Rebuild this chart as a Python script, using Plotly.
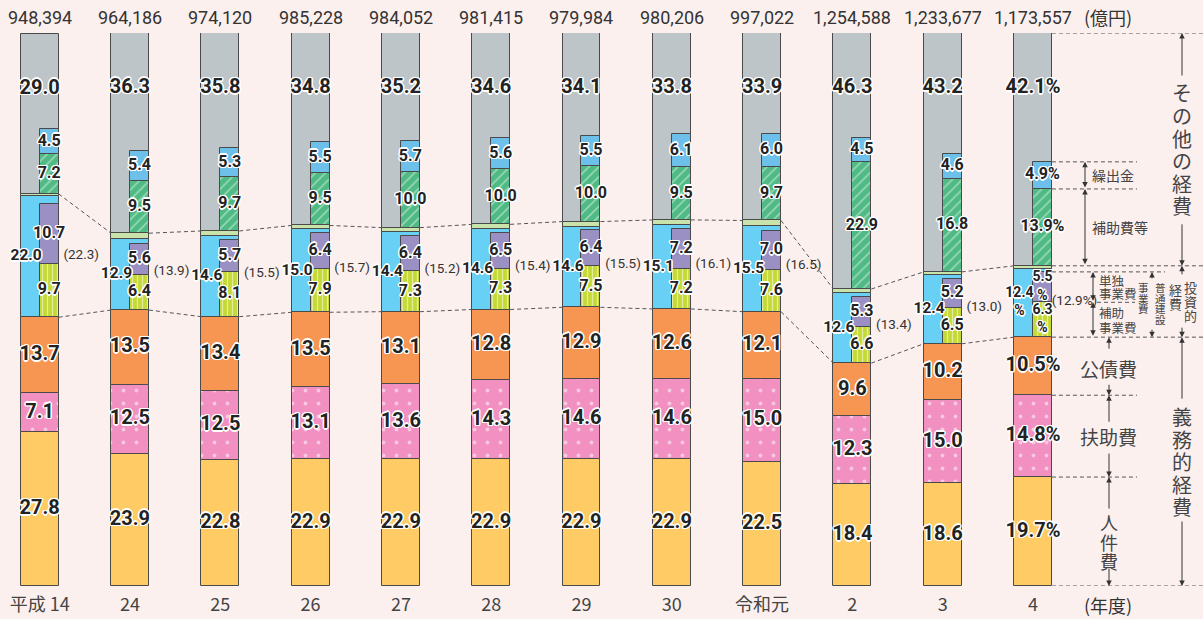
import plotly.graph_objects as go

# ---------------- data ----------------
years = ["平成 14", "24", "25", "26", "27", "28", "29", "30", "令和元", "2", "3", "4"]
totals = ["948,394", "964,186", "974,120", "985,228", "984,052", "981,415",
          "979,984", "980,206", "997,022", "1,254,588", "1,233,677", "1,173,557"]
personnel = [27.8, 23.9, 22.8, 22.9, 22.9, 22.9, 22.9, 22.9, 22.5, 18.4, 18.6, 19.7]      # 人件費
assistance = [7.1, 12.5, 12.5, 13.1, 13.6, 14.3, 14.6, 14.6, 15.0, 12.3, 15.0, 14.8]     # 扶助費
debt = [13.7, 13.5, 13.4, 13.5, 13.1, 12.8, 12.9, 12.6, 12.1, 9.6, 10.2, 10.5]           # 公債費
construction = [22.0, 12.9, 14.6, 15.0, 14.4, 14.6, 14.6, 15.1, 15.5, 12.6, 12.4, 12.4]  # 普通建設事業費
subsidized = [9.7, 6.4, 8.1, 7.9, 7.3, 7.3, 7.5, 7.2, 7.6, 6.6, 6.5, 6.3]                # 補助事業費
independent = [10.7, 5.6, 5.7, 6.4, 6.4, 6.5, 6.4, 7.2, 7.0, 5.3, 5.2, 5.5]              # 単独事業費
investment = [22.3, 13.9, 15.5, 15.7, 15.2, 15.4, 15.5, 16.1, 16.5, 13.4, 13.0, 12.9]    # 投資的経費
other = [29.0, 36.3, 35.8, 34.8, 35.2, 34.6, 34.1, 33.8, 33.9, 46.3, 43.2, 42.1]         # その他の経費
subsidies = [7.2, 9.5, 9.7, 9.5, 10.0, 10.0, 10.0, 9.5, 9.7, 22.9, 16.8, 13.9]           # 補助費等
transfers = [4.5, 5.4, 5.3, 5.5, 5.7, 5.6, 5.5, 6.1, 6.0, 4.5, 4.6, 4.9]                 # 繰出金

# ---------------- styling ----------------
FIG_W, FIG_H = 1203, 619
BG = "#FCF0EF"
EDGE = "#4A4A4A"
W = 0.42
XMIN, XMAX = -0.4396, 12.883
NUMFONT = "Roboto, Liberation Sans, sans-serif"
JP = "Noto Sans CJK JP"
OUTLINE = ("-1.5px 0 0 #fff, 1.5px 0 0 #fff, 0 -1.5px 0 #fff, 0 1.5px 0 #fff, "
           "-1px -1px 0 #fff, 1px 1px 0 #fff, -1px 1px 0 #fff, 1px -1px 0 #fff")

n = len(years)
xs = list(range(n))
last = n - 1


def add(a, b):
    return [round(p + q, 4) for p, q in zip(a, b)]


def sub(a, b):
    return [round(p - q, 4) for p, q in zip(a, b)]


b_assist = personnel
b_debt = add(personnel, assistance)
b_inv = add(b_debt, debt)
b_strip = add(b_inv, construction)
strip = sub(investment, construction)
b_indep = add(b_inv, subsidized)
b_other = add(b_inv, investment)
b_transfers = add(b_other, subsidies)
tops = add(b_other, other)


def mid(base, vals):
    return [b + v / 2 for b, v in zip(base, vals)]


def lab(vals, pct_last=True):
    out = []
    for i, v in enumerate(vals):
        s = f"{v:.1f}"
        if pct_last and i == last:
            s += "%"
        out.append(s)
    return out


fig = go.Figure()


def bar(vals, base, color, wide=True, pattern=None):
    marker = dict(color=color, line=dict(color=EDGE, width=1))
    if pattern:
        marker["pattern"] = pattern
    fig.add_trace(go.Bar(
        x=xs, y=vals, base=base,
        width=W if wide else W / 2, offset=-W / 2 if wide else 0,
        marker=marker, hoverinfo="skip", showlegend=False))


bar(personnel, [0] * n, "#FECB64")
bar(assistance, b_assist, "#F190C1",
    pattern=dict(shape=".", fgcolor="#FFFFFF", size=13, solidity=0.07))
bar(debt, b_debt, "#F79553")
bar(construction, b_inv, "#68CFF5")
bar(strip, b_strip, "#CAE3AA")
bar(other, b_other, "#BEC5C9")
bar(subsidized, b_inv, "#C4D935", wide=False,
    pattern=dict(shape="|", fgcolor="#FFFFFF", size=5, solidity=0.25))
bar(independent, b_indep, "#9A90C3", wide=False)
bar(subsidies, b_other, "#4FBA84", wide=False,
    pattern=dict(shape="/", fgcolor="#FFFFFF", size=7, solidity=0.2))
bar(transfers, b_transfers, "#6CC0EA", wide=False)

# dashed connectors between bars (top / bottom of 投資的経費)
cx, cy = [], []
for i in range(n - 1):
    for lvl in (b_other, b_inv):
        cx += [i + W / 2, i + 1 - W / 2, None]
        cy += [lvl[i], lvl[i + 1], None]
fig.add_trace(go.Scatter(x=cx, y=cy, mode="lines", hoverinfo="skip", showlegend=False,
                         line=dict(color="#555", width=1, dash="4px,3px")))


def texts(x, y, text, size, position="middle center", bold=True, outline=True, color="#222"):
    font = dict(family=NUMFONT, size=size, color=color)
    if bold:
        font["weight"] = "bold"
    if outline:
        font["shadow"] = OUTLINE
    fig.add_trace(go.Scatter(x=x, y=y, mode="text", text=text, textposition=position,
                             textfont=font, hoverinfo="skip", showlegend=False,
                             cliponaxis=False))


xn = [i + W / 4 for i in xs]
texts(xs, mid([0] * n, personnel), lab(personnel), 20)
texts(xs, mid(b_assist, assistance), lab(assistance), 20)
texts(xs, mid(b_debt, debt), lab(debt), 20)
# その他 labels sit a fixed distance below the top of each bar
texts(xs, [t - 10 for t in tops], lab(other), 20)

blue_txt = lab(construction, False)
blue_txt[last] += "<br>%"
texts([i - W / 4 - 0.045 for i in xs], mid(b_inv, construction), blue_txt,
      [15.5] * (n - 1) + [14])

sub_txt = lab(subsidized, False)
sub_txt[last] += "<br>%"
ind_txt = lab(independent, False)
ind_txt[last] += "<br>%"
nsz = [16] * (n - 1) + [14]
texts(xn, mid(b_inv, subsidized), sub_txt, nsz)
texts(xn, mid(b_indep, independent), ind_txt, nsz)
texts(xn, mid(b_other, subsidies), lab(subsidies), 16)
texts(xn, mid(b_transfers, transfers), lab(transfers), 16)

paren = [f"({v:.1f})" for v in investment]
paren[last] = f"({investment[last]:.1f}%)"
texts([i + 0.46 for i in xs], mid(b_inv, investment), paren, 13.5, bold=False,
      outline=False, color="#333")

# ---------------- annotations ----------------
ANN = []
SHAPES = []

for i in xs:
    ANN.append(dict(x=i, y=100, xref="x", yref="y", yshift=16, yanchor="middle",
                    text=totals[i], showarrow=False,
                    font=dict(family=NUMFONT, size=18, color="#333")))


def add_text(xpx, y, text, size, yshift=0, xanchor="center", color="#444"):
    ANN.append(dict(x=xpx / FIG_W, xref="paper", y=y, yref="y", yshift=yshift,
                    text=text, showarrow=False, xanchor=xanchor, yanchor="middle",
                    font=dict(family=JP, size=size, color=color)))


def vtext(xpx, y, chars, pitch, size, shift=0):
    k = len(chars)
    for j, ch in enumerate(chars):
        add_text(xpx, y, ch, size, yshift=shift - (j - (k - 1) / 2) * pitch)


def arrow(xpx, head, tail=None, tail_px=None, both=False):
    d = dict(x=xpx / FIG_W, xref="paper", y=head, yref="y", text="", showarrow=True,
             arrowhead=2, arrowsize=1.1, arrowwidth=1, arrowcolor="#333",
             ax=0, axref="pixel")
    if tail is not None:
        d.update(ay=tail, ayref="y")
    else:
        d.update(ay=tail_px, ayref="pixel")
    if both:
        d.update(arrowside="end+start", startarrowhead=2, startarrowsize=1.1)
    ANN.append(d)


def xpaper(xd):
    return (xd - XMIN) / (XMAX - XMIN)


edge = xpaper(last + W / 2)


def hline(level, x0=None, x1px=FIG_W):
    SHAPES.append(dict(type="line", xref="paper", yref="y",
                       x0=edge if x0 is None else x0 / FIG_W, x1=x1px / FIG_W,
                       y0=level, y1=level,
                       line=dict(color="#555", width=1, dash="4px,3px")))


L0 = 0
L_pers = personnel[last]
L_assist = b_debt[last]
L_debt = b_inv[last]
L_sub = b_indep[last]
L_ind = b_indep[last] + independent[last]
L_inv = b_other[last]
L_subs = b_transfers[last]
L_tr = b_transfers[last] + transfers[last]
L_top = tops[last]

hline(L_top)
hline(L_tr, x1px=1137)
hline(L_subs, x1px=1137)
hline(L_inv)
hline(L_ind, x1px=1165)
hline(L_sub, x0=1097, x1px=1135)
hline(L_debt)
hline(L_assist, x1px=1137)
hline(L_pers, x1px=1137)
hline(L0)

# その他の経費
arrow(1182, L_top, tail_px=44)
arrow(1182, L_inv, tail_px=-43)
vtext(1182, (L_top + L_inv) / 2, "その他の経費", 22.6, 20)
# 繰出金 / 補助費等
arrow(1085, L_tr, tail=L_subs, both=True)
arrow(1085, L_subs, tail=L_inv, both=True)
add_text(1090, (L_tr + L_subs) / 2, "繰出金", 14, xanchor="left")
add_text(1090, (L_subs + L_inv) / 2, "補助費等", 14, xanchor="left")
# 単独事業費 / 補助事業費
arrow(1093, L_ind, tail=L_sub, both=True)
arrow(1093, L_sub, tail=L_debt, both=True)
add_text(1097, (L_ind + L_sub) / 2, "単独", 12.5, yshift=6.7, xanchor="left")
add_text(1097, (L_ind + L_sub) / 2, "事業費", 12.5, yshift=-6.7, xanchor="left")
add_text(1097, (L_sub + L_debt) / 2, "補助", 12.5, yshift=7.5, xanchor="left")
add_text(1097, (L_sub + L_debt) / 2, "事業費", 12.5, yshift=-7.5, xanchor="left")
# 普通建設事業費
arrow(1152, L_ind, tail_px=8)
arrow(1152, L_debt, tail_px=-9)
vtext(1160, (L_ind + L_debt) / 2, "普通建設", 10.7, 10.5, shift=1)
vtext(1143, (L_ind + L_debt) / 2, "事業費", 10.2, 10.5, shift=6.5)
# 投資的経費
arrow(1182, L_inv, tail_px=10)
arrow(1182, L_debt, tail_px=-11)
vtext(1190, (L_inv + L_debt) / 2, "投資的", 14, 13)
vtext(1175, (L_inv + L_debt) / 2, "経費", 13.5, 13, shift=5)
# 公債費 / 扶助費 / 人件費
arrow(1109, L_debt, tail_px=13)
arrow(1109, L_assist, tail_px=-12)
add_text(1108, (L_debt + L_assist) / 2, "公債費", 19, yshift=-2)
arrow(1109, L_assist, tail_px=28)
arrow(1109, L_pers, tail_px=-25)
add_text(1108, (L_assist + L_pers) / 2, "扶助費", 19)
arrow(1109, L_pers, tail_px=33)
arrow(1109, L0, tail_px=-19)
vtext(1109, (L_pers + L0) / 2, "人件費", 19.5, 18, shift=-10)
# 義務的経費
arrow(1182, L_debt, tail_px=63)
arrow(1182, L0, tail_px=-66)
vtext(1182, (L_debt + L0) / 2, "義務的経費", 22.5, 20)

# units
add_text(1108, 100, "(億円)", 18, yshift=16, color="#333")
add_text(1108, 0, "(年度)", 18, yshift=-19, color="#333")

fig.update_layout(
    width=FIG_W, height=FIG_H,
    margin=dict(l=0, r=0, t=33, b=33, pad=0),
    paper_bgcolor=BG, plot_bgcolor=BG,
    barmode="overlay", bargap=0,
    showlegend=False,
    annotations=ANN, shapes=SHAPES,
    xaxis=dict(range=[XMIN, XMAX], tickvals=xs, ticktext=years, showgrid=False,
               zeroline=False, showline=False, ticks="", automargin=False,
               ticklabelstandoff=6,
               tickfont=dict(family=JP, size=18, color="#444"), fixedrange=True),
    yaxis=dict(range=[0, 100], visible=False, automargin=False, fixedrange=True),
    hovermode=False,
)

fig.write_html("out.html", config={"displayModeBar": False},
               post_script="document.body.style.margin='0';"
                           "document.body.style.background='" + BG + "';")
